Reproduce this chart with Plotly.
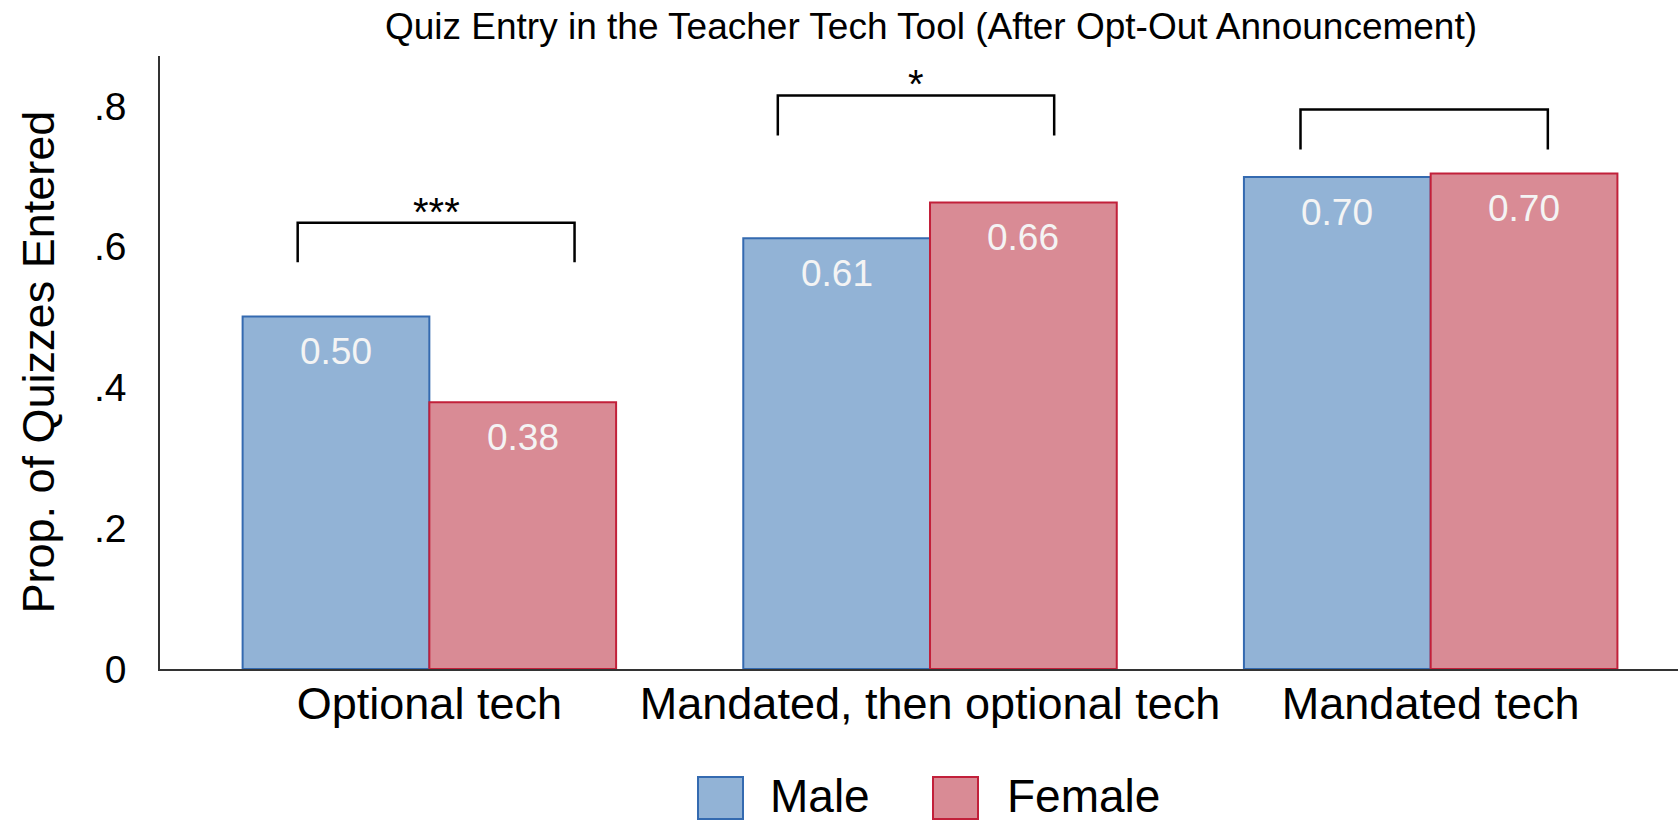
import plotly.graph_objects as go

# ---------------- data ----------------
categories = ["Optional tech", "Mandated, then optional tech", "Mandated tech"]
male_values = [0.501, 0.612, 0.699]
female_values = [0.379, 0.663, 0.704]
series_names = ["Male", "Female"]

y_tick_values = [0, 0.2, 0.4, 0.6, 0.8]
y_tick_labels = ["0", ".2", ".4", ".6", ".8"]

# significance brackets (offsets relative to group centre, heights in data units)
bracket_left = [-0.263, -0.304, -0.260]
bracket_right = [0.290, 0.248, 0.234]
bracket_top = [0.634, 0.815, 0.795]
bracket_bottom = [0.578, 0.758, 0.738]
bracket_stars = ["***", "*", ""]

# ---------------- style ----------------
FONT = "Liberation Sans, Arial, Helvetica, sans-serif"
male_fill = "rgb(146,179,214)"
male_line = "rgb(52,106,176)"
female_fill = "rgb(217,139,149)"
female_line = "rgb(194,32,58)"
bargap = 0.254
bar_w = (1 - bargap) / 2

W, H = 1678, 822
ml, mr, mt, mb = 160, 0, 56, 153

x_idx = list(range(len(categories)))

fig = go.Figure()
fig.add_trace(go.Bar(x=x_idx, y=male_values, name=series_names[0],
                     marker=dict(color=male_fill, line=dict(color=male_line, width=2)),
                     showlegend=False, hoverinfo="y"))
fig.add_trace(go.Bar(x=x_idx, y=female_values, name=series_names[1],
                     marker=dict(color=female_fill, line=dict(color=female_line, width=2)),
                     showlegend=False, hoverinfo="y"))

annotations = []
shapes = []

# value labels inside bars
for vals, off in ((male_values, -bar_w / 2), (female_values, bar_w / 2)):
    for i, v in zip(x_idx, vals):
        annotations.append(dict(x=i + off, y=v, xref="x", yref="y", text=f"{v:.2f}",
                                showarrow=False, yanchor="middle", yshift=-35,
                                font=dict(family=FONT, size=37, color="#f4f4f4")))

# brackets + stars
for i, l, r, t, b, s in zip(x_idx, bracket_left, bracket_right, bracket_top, bracket_bottom, bracket_stars):
    x0, x1 = i + l, i + r
    shapes.append(dict(type="path", xref="x", yref="y",
                       path=f"M {x0},{b} L {x0},{t} L {x1},{t} L {x1},{b}",
                       line=dict(color="black", width=2.5)))
    if s:
        annotations.append(dict(x=(x0 + x1) / 2, y=t, xref="x", yref="y", text=s,
                                showarrow=False, yanchor="bottom", yshift=-13,
                                font=dict(family=FONT, size=40, color="black")))

# y-axis title
annotations.append(dict(x=(38 - ml) / (W - ml - mr), y=0.5, xref="paper", yref="paper",
                        text="Prop. of Quizzes Entered", textangle=-90, showarrow=False,
                        xanchor="center", yanchor="middle",
                        font=dict(family=FONT, size=45, color="black")))

# manual legend
pw, ph = W - ml - mr, H - mt - mb
def px_x(px):
    return (px - ml) / pw
def px_y(py):
    return (H - mb - py) / ph

legend_items = [(series_names[0], male_fill, male_line, 698, 768),
                (series_names[1], female_fill, female_line, 933, 1005)]
for name, fill, line, sx, tx in legend_items:
    shapes.append(dict(type="rect", xref="paper", yref="paper",
                       x0=px_x(sx), x1=px_x(sx + 45), y0=px_y(819), y1=px_y(777),
                       fillcolor=fill, line=dict(color=line, width=2)))
    annotations.append(dict(x=px_x(tx), y=px_y(796), xref="paper", yref="paper",
                            text=name, showarrow=False, xanchor="left", yanchor="middle",
                            font=dict(family=FONT, size=46, color="black")))

fig.update_layout(
    width=W, height=H,
    margin=dict(l=ml, r=mr, t=mt, b=mb, pad=0),
    paper_bgcolor="white", plot_bgcolor="white",
    barmode="group", bargap=bargap, bargroupgap=0,
    title=dict(text="Quiz Entry in the Teacher Tech Tool (After Opt-Out Announcement)",
               x=(931 - ml) / pw, xref="paper", xanchor="center",
               y=1 - 26 / H, yref="container", yanchor="middle",
               font=dict(family=FONT, size=37, color="black")),
    xaxis=dict(range=[-0.538, 2.494], tickvals=x_idx, ticktext=categories,
               showgrid=False, zeroline=False, showline=True, linecolor="#333333",
               linewidth=1.5, ticks="", ticklabelstandoff=-6,
               tickfont=dict(family=FONT, size=45, color="black"), fixedrange=True),
    yaxis=dict(range=[0, 0.871], tickvals=y_tick_values, ticktext=y_tick_labels,
               showgrid=False, zeroline=False, showline=True, linecolor="#333333",
               linewidth=1.5, ticks="", ticklabelstandoff=24,
               tickfont=dict(family=FONT, size=39, color="black"), fixedrange=True),
    annotations=annotations, shapes=shapes, showlegend=False,
)

fig.write_html("out.html", include_plotlyjs=True, full_html=True,
               config={"displayModeBar": False},
               post_script="document.body.style.margin='0';document.body.style.overflow='hidden';")
